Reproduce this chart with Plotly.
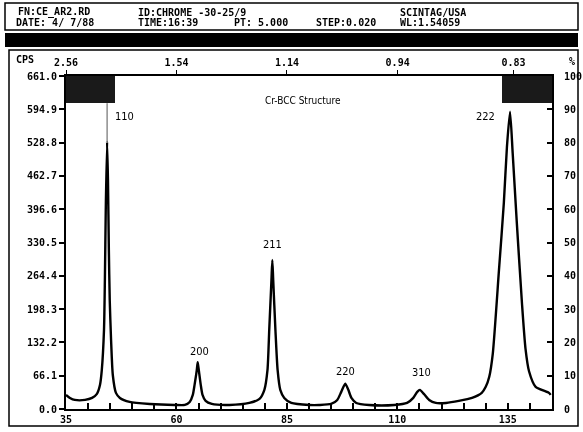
import numpy as np
import plotly.graph_objects as go

W, H = 583, 432

# diffraction profile (2-theta in degrees, counts per second)
two_theta = [35.0, 35.9, 37.0, 39.3, 40.9, 42.0, 42.7, 43.1, 43.6, 43.8, 44.0, 44.3,
             44.5, 44.7, 44.9, 45.2, 45.6, 46.3, 47.2, 49.4, 54.0, 59.6,
             61.9, 63.0, 63.7, 64.1, 64.6, 64.8, 65.0, 65.5, 65.9, 66.6, 68.0, 72.0,
             76.5, 78.8, 79.9, 80.6, 81.0, 81.5, 81.7, 81.9, 82.4, 82.9, 83.5, 84.4, 86.0, 90.1,
             92.3, 95.0, 96.4, 97.3, 98.2, 98.9, 99.6, 100.7, 103.6, 109.3,
             112.2, 113.6, 114.5, 115.1, 116.0, 117.2, 118.7, 121.0, 123.9,
             126.9, 129.1, 130.0, 130.8, 131.6, 133.0, 134.1, 134.8, 135.5, 136.1, 137.0,
             138.2, 139.0, 139.8, 141.3, 144.3, 144.7]
cps = [28, 22, 18, 18, 22, 30, 48, 77, 157, 256, 395, 530,
       455, 316, 216, 137, 67, 32, 22, 14, 10, 8,
       8, 14, 28, 48, 77, 93, 81, 48, 28, 16, 10, 8,
       12, 20, 38, 77, 157, 256, 296, 256, 157, 77, 38, 22, 12, 8,
       8, 10, 18, 34, 50, 38, 22, 12, 8, 8,
       12, 22, 34, 38, 30, 18, 12, 12, 16,
       22, 32, 44, 64, 110, 276, 409, 520, 590, 508, 375,
       210, 120, 75, 44, 32, 28]

peak_hkl = ["110", "200", "211", "220", "310", "222"]
peak_label_x = [48.3, 65.2, 81.7, 98.2, 115.4, 130.0]
peak_label_y = [580, 115, 326, 75, 73, 580]

cps_ticks = [0.0, 66.1, 132.2, 198.3, 264.4, 330.5, 396.6, 462.7, 528.8, 594.9, 661.0]
pct_ticks = [0, 10, 20, 30, 40, 50, 60, 70, 80, 90, 100]
theta_ticks = list(range(35, 146, 5))
theta_labels = ["35", "60", "85", "110", "135"]
d_labels = ["2.56", "1.54", "1.14", "0.94", "0.83"]
wavelength = 1.54059

header_1 = [("FN:CE_AR2.RD", 16), ("ID:CHROME -30-25/9", 136), ("SCINTAG/USA", 398)]
header_2 = [("DATE: 4/ 7/88", 14), ("TIME:16:39", 136), ("PT: 5.000", 232),
            ("STEP:0.020", 314), ("WL:1.54059", 398)]

X0, X1, Y0, Y1 = 66, 552, 76, 409  # plot box in pixels


def px(x):
    return x / W


def py(y):
    return 1 - y / H


FONT = dict(family="DejaVu Sans Mono", size=10, color="black", weight="bold")

d_pos = [2 * np.degrees(np.arcsin(wavelength / (2 * float(d)))) for d in d_labels]

fig = go.Figure()
fig.add_trace(go.Scatter(x=two_theta, y=cps, mode="lines",
                         line=dict(color="black", width=2.4, shape="spline", smoothing=0.6),
                         hoverinfo="skip", showlegend=False))
fig.add_trace(go.Scatter(x=[35, 145], y=[0, 100], mode="markers", opacity=0,
                         yaxis="y2", hoverinfo="skip", showlegend=False))
fig.add_trace(go.Scatter(x=[35, 145], y=[0, 0], mode="markers", opacity=0,
                         xaxis="x2", hoverinfo="skip", showlegend=False))

fig.update_layout(
    template="none",
    width=W, height=H, margin=dict(l=0, r=0, t=0, b=0, autoexpand=False),
    paper_bgcolor="white", plot_bgcolor="white",
    xaxis=dict(domain=[px(X0), px(X1)], range=[35, 145], showgrid=False, zeroline=False,
               automargin=False,
               showline=True, linecolor="black", linewidth=2, mirror=False,
               ticks="inside", ticklen=6, tickwidth=1.5, tickcolor="black",
               tickvals=theta_ticks,
               ticktext=[str(t) if str(t) in theta_labels else "" for t in theta_ticks],
               tickfont=FONT),
    xaxis2=dict(overlaying="x", side="top", range=[35, 145], showgrid=False, zeroline=False,
                automargin=False,
                showline=True, linecolor="black", linewidth=2,
                ticks="outside", ticklen=4, tickwidth=1.2, tickcolor="black",
                tickvals=d_pos, ticktext=d_labels, tickfont=FONT),
    yaxis=dict(domain=[py(Y1), py(Y0)], range=[0, 661], showgrid=False, zeroline=False,
               automargin=False,
               showline=True, linecolor="black", linewidth=2,
               ticks="outside", ticklen=5, tickwidth=1.5, tickcolor="black",
               tickvals=cps_ticks, ticktext=["%.1f" % v for v in cps_ticks], tickfont=FONT),
    yaxis2=dict(overlaying="y", side="right", range=[0, 100], showgrid=False, zeroline=False,
                automargin=False,
                showline=True, linecolor="black", linewidth=2,
                ticks="inside", ticklen=5, tickwidth=1.5, tickcolor="black",
                tickvals=pct_ticks, ticktext=[str(v) for v in pct_ticks], tickfont=FONT,
                ticklabelstandoff=8),
)

shapes = [
    # header box, black band, main panel frame
    dict(type="rect", xref="paper", yref="paper", x0=px(5), x1=px(578), y0=py(30), y1=py(3),
         line=dict(color="black", width=1.5)),
    dict(type="rect", xref="paper", yref="paper", x0=px(5), x1=px(578), y0=py(47), y1=py(33),
         line=dict(width=0), fillcolor="black"),
    dict(type="rect", xref="paper", yref="paper", x0=px(9), x1=px(578), y0=py(426), y1=py(50),
         line=dict(color="black", width=1.5)),
    # scan-window markers in the top corners
    dict(type="rect", xref="paper", yref="paper", x0=px(X0), x1=px(115), y0=py(103), y1=py(Y0),
         line=dict(width=0), fillcolor="#1a1a1a"),
    dict(type="rect", xref="paper", yref="paper", x0=px(502), x1=px(X1), y0=py(103), y1=py(Y0),
         line=dict(width=0), fillcolor="#1a1a1a"),
    # cursor line from the marker to the 110 peak
    dict(type="line", xref="x", yref="y", x0=44.3, x1=44.3, y0=530, y1=607,
         line=dict(color="#555", width=1)),
]
fig.update_layout(shapes=shapes)

for txt, x in header_1:
    fig.add_annotation(text=txt, xref="paper", yref="paper", x=px(x), y=py(12),
                       xanchor="left", yanchor="middle", showarrow=False, font=FONT)
for txt, x in header_2:
    fig.add_annotation(text=txt, xref="paper", yref="paper", x=px(x), y=py(22),
                       xanchor="left", yanchor="middle", showarrow=False, font=FONT)

fig.add_annotation(text="CPS", xref="paper", yref="paper", x=px(14), y=py(60),
                   xanchor="left", yanchor="middle", showarrow=False, font=FONT)
fig.add_annotation(text="%", xref="paper", yref="paper", x=px(572), y=py(62),
                   xanchor="center", yanchor="middle", showarrow=False, font=FONT)
fig.add_annotation(text="Cr-BCC Structure", xref="paper", yref="paper", x=px(303), y=py(100),
                   xanchor="center", yanchor="middle", showarrow=False,
                   font=dict(family="DejaVu Sans Condensed", size=10, color="black"))

for hkl, x, y in zip(peak_hkl, peak_label_x, peak_label_y):
    fig.add_annotation(text=hkl, x=x, y=y, xref="x", yref="y", showarrow=False,
                       font=dict(family="DejaVu Sans Condensed", size=11, color="black"))

# drop the browser's default body margin so the 583x432 figure fills the window
fig.write_html("out.html", config={"displayModeBar": False},
               post_script="document.body.style.margin = '0';")
